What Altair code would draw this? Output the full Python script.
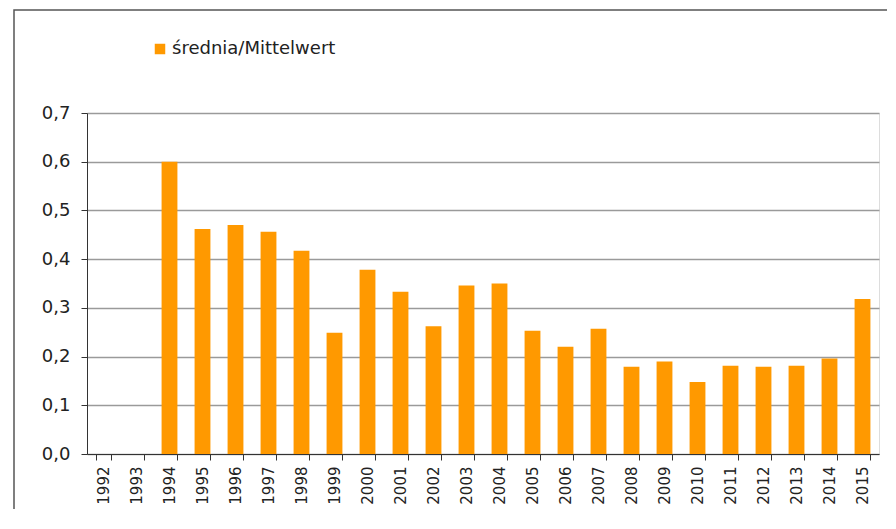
import altair as alt
import pandas as pd

years = [str(y) for y in range(1992, 2016)]
values = [None, None, 0.600, 0.462, 0.470, 0.456, 0.417, 0.249, 0.378, 0.333,
          0.262, 0.346, 0.350, 0.253, 0.220, 0.257, 0.179, 0.190, 0.148, 0.181,
          0.179, 0.181, 0.196, 0.318]
series_name = "średnia/Mittelwert"
y_ticks = [0.0, 0.1, 0.2, 0.3, 0.4, 0.5, 0.6, 0.7]

df = pd.DataFrame({"year": years, "value": values, "series": [series_name] * len(years)})

W, H = 792, 341

bars = alt.Chart(df).mark_bar(color="#FF9900").encode(
    x=alt.X("year:N", sort=years, scale=alt.Scale(domain=years, paddingInner=0.52, paddingOuter=0.26),
            axis=alt.Axis(title=None, labelAngle=-90, labelFont="DejaVu Sans", labelFontSize=15,
                          labelColor="#222", labelPadding=6, tickSize=6, tickBand="extent",
                          tickColor="#333", domainColor="#333", grid=False, labelBaseline="middle",
                          labelAlign="right", labelLimit=200)),
    y=alt.Y("value:Q", scale=alt.Scale(domain=[0, 0.7], nice=False),
            axis=alt.Axis(title=None, values=y_ticks,
                          labelExpr="replace(format(datum.value, '.1f'), '.', ',')",
                          labelFont="DejaVu Sans", labelFontSize=18, labelColor="#222",
                          labelPadding=11, tickSize=6, tickColor="#333", domainColor="#333",
                          grid=True, gridColor="#9a9a9a", gridWidth=1.3)),
    color=alt.Color("series:N", scale=alt.Scale(domain=[series_name], range=["#FF9900"]),
                    legend=alt.Legend(orient="none", legendX=64, legendY=-73, title=None,
                                      symbolType="square", symbolSize=110, labelFontSize=18,
                                      labelFont="DejaVu Sans", labelColor="#222", padding=0,
                                      labelOffset=3, symbolStrokeWidth=0, labelLimit=400)),
)

frame_df = pd.DataFrame({"k": [0]})
frame = alt.Chart(frame_df).mark_rect(filled=False, stroke="#555", strokeWidth=1.5).encode(
    x=alt.value(-73), x2=alt.value(W + 60), y=alt.value(-103), y2=alt.value(H + 120))

chart = alt.layer(bars, frame).properties(
    width=W, height=H,
    padding={"left": 79, "top": 105, "right": 8, "bottom": 55},
    autosize=alt.AutoSizeParams(type="none"),
).configure_view(stroke=None).configure(background="white")

chart.save("out.html", embed_options={"renderer": "svg", "actions": False})
